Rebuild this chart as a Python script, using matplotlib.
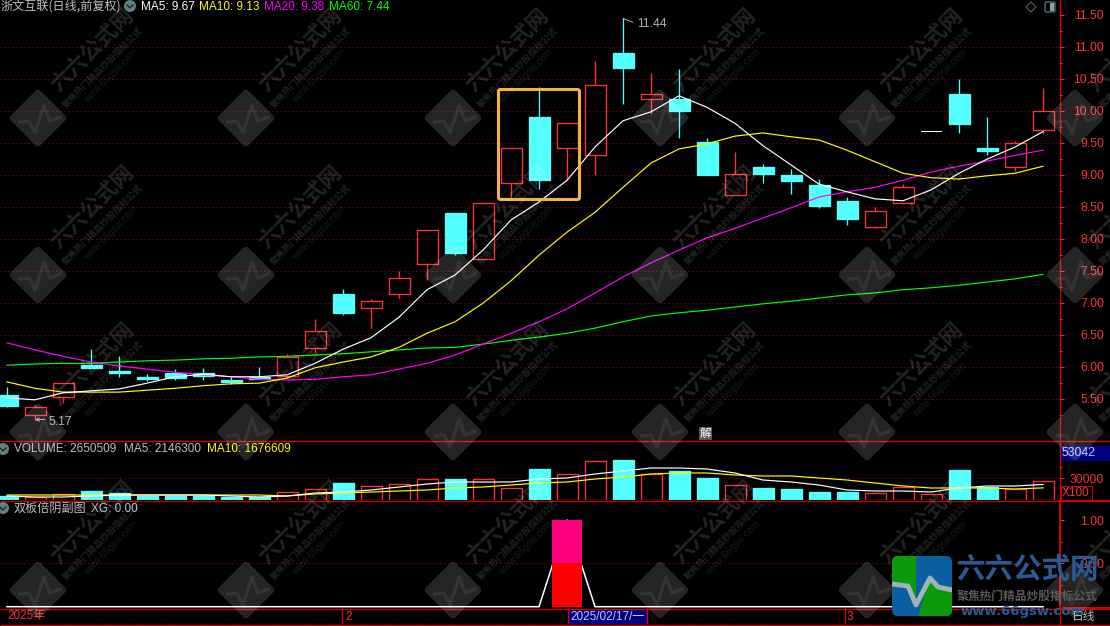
import matplotlib
matplotlib.use('Agg')
import numpy as np
import matplotlib.pyplot as plt
from matplotlib.patches import Rectangle, FancyBboxPatch, Polygon, Circle
from matplotlib.transforms import Affine2D

W, H = 1110, 626
CJK = ['Noto Sans CJK SC', 'DejaVu Sans']
LATIN = 'Liberation Sans'
RED = '#ff3232'
CYAN = '#54ffff'
DARK = '#a00000'
GREY = '#c0c0c0'
FRAME = '#d00000'
PX = 0.72  # one pixel line
STROKE = 0.95  # snapped strokes, a bit heavier so they stay bright

# daily candles
opens = [5.56, 5.24, 5.52, 6.02, 5.93, 5.84, 5.90, 5.90, 5.79, 5.84, 5.85, 6.29, 7.13, 6.91, 7.13, 7.60, 8.40, 7.68, 8.87,
         9.90, 9.41, 9.30, 10.90, 10.18, 10.18, 9.51, 8.68, 9.12, 9.00, 8.84, 8.59, 8.18, 8.55, 9.68, 10.26, 9.41, 9.12, 9.69]
closes = [5.38, 5.37, 5.74, 5.98, 5.90, 5.80, 5.82, 5.85, 5.76, 5.80, 6.15, 6.55, 6.84, 7.02, 7.38, 8.13, 7.77, 8.55, 9.41,
          8.91, 9.80, 10.40, 10.66, 10.26, 10.00, 9.00, 9.01, 9.01, 8.90, 8.51, 8.30, 8.43, 8.80, 9.68, 9.79, 9.37, 9.49, 10.00]
highs = [5.68, 5.40, 5.74, 6.27, 6.16, 5.88, 5.96, 5.98, 5.85, 6.00, 6.20, 6.74, 7.21, 7.06, 7.49, 8.13, 8.40, 8.55, 9.41,
         10.36, 9.80, 10.77, 11.44, 10.59, 10.65, 9.57, 9.35, 9.16, 9.08, 8.93, 8.65, 8.49, 8.85, 9.68, 10.49, 9.90, 9.52, 10.35]
lows = [5.37, 5.17, 5.43, 5.98, 5.84, 5.77, 5.79, 5.79, 5.73, 5.80, 5.82, 6.21, 6.80, 6.60, 7.07, 7.35, 7.74, 7.68, 8.62,
        8.77, 8.91, 9.00, 10.10, 9.95, 9.57, 9.00, 8.68, 8.87, 8.70, 8.48, 8.21, 8.16, 8.55, 9.68, 9.65, 9.30, 9.05, 9.63]

ma5 = [5.51, 5.48, 5.59, 5.62, 5.65, 5.74, 5.84, 5.88, 5.84, 5.84, 5.87, 6.05, 6.27, 6.45, 6.77, 7.20, 7.43, 7.82, 8.29,
       8.57, 8.91, 9.43, 9.84, 9.98, 10.23, 10.05, 9.80, 9.45, 9.15, 8.85, 8.73, 8.62, 8.59, 8.76, 9.02, 9.24, 9.43, 9.67]
ma10 = [5.76, 5.66, 5.60, 5.60, 5.60, 5.63, 5.66, 5.70, 5.73, 5.74, 5.82, 5.98, 6.07, 6.15, 6.30, 6.52, 6.70, 6.99, 7.34,
        7.74, 8.10, 8.41, 8.80, 9.18, 9.40, 9.48, 9.60, 9.65, 9.59, 9.54, 9.38, 9.20, 9.02, 8.95, 8.93, 8.98, 9.02, 9.13]
ma20 = [6.37, 6.26, 6.16, 6.07, 6.01, 5.96, 5.91, 5.87, 5.84, 5.80, 5.79, 5.80, 5.84, 5.87, 5.96, 6.05, 6.18, 6.35, 6.52,
        6.70, 6.90, 7.15, 7.40, 7.62, 7.82, 8.01, 8.16, 8.32, 8.48, 8.65, 8.73, 8.80, 8.91, 9.04, 9.13, 9.21, 9.30, 9.38]
ma60 = [6.02, 6.04, 6.05, 6.05, 6.07, 6.09, 6.10, 6.12, 6.13, 6.15, 6.16, 6.18, 6.20, 6.23, 6.26, 6.29, 6.30, 6.35, 6.41,
        6.46, 6.52, 6.60, 6.70, 6.79, 6.84, 6.88, 6.93, 6.98, 7.02, 7.07, 7.12, 7.15, 7.20, 7.23, 7.27, 7.32, 7.37, 7.44]

volume = [553000, 415000, 830000, 1244000, 968000, 553000, 553000, 553000, 415000, 415000, 1106000, 1521000, 2350000,
          1935000, 2212000, 2903000, 2903000, 2903000, 1659000, 4286000, 3595000, 5392000, 5530000, 3595000, 4009000,
          3042000, 2074000, 1659000, 1521000, 1106000, 1106000, 968000, 1797000, 830000, 4148000, 1797000, 1521000, 2650509]
vol_ma5 = [553000, 415000, 415000, 553000, 691000, 691000, 691000, 691000, 553000, 415000, 553000, 968000, 1106000,
           1383000, 1797000, 2212000, 2489000, 2489000, 2489000, 2903000, 3042000, 3595000, 4009000, 4424000, 4424000,
           4286000, 3733000, 2765000, 2489000, 2074000, 1383000, 1244000, 1244000, 1106000, 1659000, 1936000, 1936000, 2146300]
vol_ma10 = [691000, 691000, 691000, 691000, 691000, 691000, 691000, 691000, 691000, 691000, 553000, 830000, 968000,
            1106000, 1244000, 1383000, 1659000, 1797000, 2074000, 2350000, 2489000, 2903000, 3180000, 3595000, 3733000,
            3733000, 3456000, 3318000, 3318000, 3042000, 2765000, 2350000, 1936000, 1659000, 1659000, 1659000, 1521000, 1676609]

xg = [0] * 20 + [1] + [0] * 17
xg_day = 20
price_ticks = [5.5, 6.0, 6.5, 7.0, 7.5, 8.0, 8.5, 9.0, 9.5, 10.0, 10.5, 11.0, 11.5]
price_minor = [5.25, 5.75, 6.25, 6.75, 7.25, 7.75, 8.25, 8.75, 9.25, 9.75, 10.25, 10.75, 11.25]
month_ticks = [38, 70, 111, 140, 174, 203, 237, 278, 305, 334, 361, 386, 418, 452, 503, 532, 560, 595, 623, 658, 690, 720,
               762, 833, 867, 900, 960, 1020]

plt.rcParams['font.family'] = [LATIN, 'DejaVu Sans']
x = np.arange(len(opens))
fig = plt.figure(figsize=(W / 100, H / 100), dpi=100, facecolor='black')


def panel(top, bottom):
    ax = fig.add_axes([0, 1 - bottom / H, 1059 / W, (bottom - top) / H], facecolor='black')
    ax.set_xlim(-0.25, 37.571)
    ax.set_xticks([])
    for side in ['top', 'left', 'bottom', 'right']:
        ax.spines[side].set_visible(False)
    ax.yaxis.tick_right()
    ax.tick_params(axis='y', which='major', length=3.6, width=PX, color=RED, labelcolor=RED, labelsize=8.7, pad=28.8)
    ax.tick_params(axis='y', which='minor', length=2.2, width=PX, color=RED)
    return ax


def dotted(ax, values):
    ax.hlines(values, -0.25, 37.571, colors=DARK, linewidth=PX, linestyles=[(0, (1, 3))], snap=True, zorder=1)


def right_labels(ax):
    for label in ax.get_yticklabels():
        label.set_ha('right')


def body(ax, i, low, height, up):
    col = RED if up else CYAN
    ax.add_patch(Rectangle((i - 0.375, low), 0.75, height, facecolor='none' if up else col, edgecolor=col,
                           linewidth=STROKE, snap=True, zorder=3))


# candles
ax = panel(0, 440)
ax.set_ylim(4.852, 11.727)
ax.set_yticks(price_ticks, [f'{v:.2f}' for v in price_ticks])
ax.set_yticks(price_minor, minor=True)
right_labels(ax)
dotted(ax, price_ticks[:-1])
for i in x:
    top, bot = max(opens[i], closes[i]), min(opens[i], closes[i])
    if highs[i] == lows[i]:
        ax.plot([i - 0.36, i + 0.36], [opens[i], opens[i]], color='white', lw=PX, zorder=3)
        continue
    up = closes[i] >= opens[i]
    col = RED if up else CYAN
    ax.vlines(i, top, highs[i], color=col, lw=STROKE, snap=True, zorder=2)
    ax.vlines(i, lows[i], bot, color=col, lw=STROKE, snap=True, zorder=2)
    body(ax, i, bot, top - bot, up)
for vals, col in [(ma60, '#00ff00'), (ma20, '#ff00ff'), (ma10, '#ffff00'), (ma5, 'white')]:
    ax.plot(x, vals, color=col, lw=0.85, zorder=4)
ax.annotate(f'{max(highs):.2f}', xy=(22, max(highs)), xytext=(10, -4), textcoords='offset points', color='#b0b0b0',
            fontsize=8.7, va='center', arrowprops=dict(arrowstyle='-', color='#b0b0b0', lw=0.7, shrinkA=1, shrinkB=0, relpos=(0, 0.5)))
ax.annotate(f'{min(lows):.2f}', xy=(1, min(lows)), xytext=(10, -1.5), textcoords='offset points', color='#b0b0b0',
            fontsize=8.7, va='center', arrowprops=dict(arrowstyle='->', color='#b0b0b0', lw=0.7, shrinkA=1, shrinkB=0, mutation_scale=6,
                                                       relpos=(0, 0.7)))

# volume
vol_ax = panel(440, 500)
vol_ax.set_ylim(0, 8295000)
vol_ax.set_yticks([3000000], ['30000'])
vol_ax.set_yticks([4500000], minor=True)
right_labels(vol_ax)
dotted(vol_ax, [3000000])
for i in x:
    body(vol_ax, i, 0, volume[i], closes[i] >= opens[i])
vol_ax.plot(x, vol_ma10, color='#ffff00', lw=0.85, zorder=4)
vol_ax.plot(x, vol_ma5, color='white', lw=0.85, zorder=4)

# XG sub chart
xg_ax = panel(500, 608)
xg_ax.set_ylim(-0.015, 1.231)
xg_ax.set_yticks([0.5, 1.0], ['0.50', '1.00'])
xg_ax.set_yticks([0.25, 0.75], minor=True)
right_labels(xg_ax)
dotted(xg_ax, [0.5])
xg_ax.plot(x, xg, color='white', lw=1.1, zorder=2)
xg_ax.bar(xg_day, 0.5, width=1.04, color='#ff0000', zorder=3)
xg_ax.bar(xg_day, 0.5, width=1.04, bottom=0.5, color='#ff0080', zorder=3)

# overlay in pixels for frame, labels and watermark
ov = fig.add_axes([0, 0, 1, 1], facecolor='none')
ov.set_xlim(0, W)
ov.set_ylim(H, 0)
ov.axis('off')

ov.hlines([440.5, 500.5, 608.5, 624.5], 0, W, color=FRAME, lw=STROKE, snap=True)
ov.vlines(1059.5, 0, 626, color=FRAME, lw=STROKE, snap=True)
ov.add_patch(Rectangle((1059.5, 501), 51, 107, facecolor='none', edgecolor=FRAME, lw=1.44, snap=True))
ov.vlines(month_ticks, 624, 626, color=FRAME, lw=PX, snap=True)

ov.add_patch(FancyBboxPatch((498.5, 89.5), 81, 110, boxstyle='round,pad=0,rounding_size=2', facecolor='none',
                            edgecolor='#f4b13c', lw=2.2, zorder=6))


def label(px, py, s, color=GREY, size=8.5, family=None, **kw):
    ov.text(px, py, s, color=color, fontsize=size, family=family or [LATIN, 'DejaVu Sans'], va='center', **kw)


label(1, 6.5, '浙文互联(日线,前复权)', family=CJK, size=8.7)
label(141, 6.5, 'MA5: 9.67', color='white')
label(199, 6.5, 'MA10: 9.13', color='#ffff00')
label(264, 6.5, 'MA20: 9.38', color='#ff00ff')
label(329, 6.5, 'MA60: 7.44', color='#00ff00')
label(14, 449.5, 'VOLUME: 2650509')
label(124, 449.5, 'MA5: 2146300')
label(207, 449.5, 'MA10: 1676609', color='#ffff00')
label(14, 508.5, '双板倍阴副图', family=CJK, size=8.7)
label(91, 508.5, 'XG: 0.00')

# readouts on the right and date strip
ov.add_patch(Rectangle((1060, 446), 50, 15, facecolor='#000080', edgecolor='none'))
label(1061, 453, '53042', color='#c8c8ff', size=8.7)
ov.add_patch(Rectangle((1060.5, 486), 31, 14, facecolor='black', edgecolor=FRAME, lw=PX, snap=True))
label(1062, 493, 'X100', color=RED)
ov.add_patch(Rectangle((569, 609), 78, 15, facecolor='#000080', edgecolor='none'))
ov.vlines([342, 568, 647, 845], 608, 624, color=FRAME, lw=STROKE, snap=True)
label(570, 616.5, '2025/02/17/一', color='#c8c8ff', family=[LATIN, 'Noto Sans CJK SC'])
label(7, 616.5, '2025年', color=RED, family=[LATIN, 'Noto Sans CJK SC'])
label(345, 616.5, '2', color=RED)
label(847, 616.5, '3', color=RED)
label(1072, 616.5, '日线', family=CJK)
ov.add_patch(Rectangle((699, 427), 13, 13, facecolor='#4a5a5a', edgecolor='none'))
label(705.5, 433.5, '解', color='white', family=CJK, ha='center')

# small icons
for cx, cy in [(130, 6), (3, 449), (3, 508)]:
    ov.add_patch(Circle((cx, cy), 6, facecolor='#5f8080', edgecolor='none', clip_on=True))
    ov.plot([cx - 3, cx, cx + 3], [cy - 1, cy + 2, cy - 1], color='#102020', lw=0.9)
ov.add_patch(Polygon([(1031, 2), (1036, 7), (1031, 12), (1026, 7)], closed=True, facecolor='none', edgecolor='#5f7070', lw=0.7))
ov.add_patch(FancyBboxPatch((1045, 2), 10, 10, boxstyle='round,pad=0,rounding_size=1.5', facecolor='none', edgecolor='#5f8080', lw=0.9))
ov.add_patch(Rectangle((1050, 3), 4, 8, facecolor='#90a0a0', edgecolor='none'))

# watermark grid
for cy in [118, 275, 432, 590]:
    for cx in [38, 246, 453, 660, 867, 1075]:
        rot = Affine2D().rotate_deg_around(cx, cy, 45) + ov.transData
        ov.add_patch(FancyBboxPatch((cx - 21, cy - 21), 42, 42, boxstyle='round,pad=0,rounding_size=4', facecolor='white',
                                    edgecolor='none', alpha=0.15, transform=rot, zorder=7))
        ov.plot(cx + np.array([-18, -9, -3, 6, 12, 22]), cy + np.array([4, 3, 15, -13, 3, -1]), color='white', lw=2.4,
                alpha=0.07, zorder=7)
        ov.text(cx + 54, cy - 68, '六六公式网', color='white', alpha=0.14, fontsize=15.5, weight='bold', family=CJK, rotation=45,
                rotation_mode='anchor', ha='center', va='center', zorder=7, clip_on=True)
        ov.text(cx + 65, cy - 50, '聚焦热门精品炒股指标公式', color='white', alpha=0.14, fontsize=6.6, weight='bold', family=CJK,
                rotation=45, rotation_mode='anchor', ha='center', va='center', zorder=7, clip_on=True)
        ov.text(cx + 73, cy - 42, 'www.66gsw.com', color='white', alpha=0.11, fontsize=7, rotation=45, rotation_mode='anchor',
                ha='center', va='center', zorder=7, clip_on=True)

# corner logo
box = FancyBboxPatch((892, 556), 60, 60, boxstyle='round,pad=0,rounding_size=6', facecolor='#0a5fa0', edgecolor='none', zorder=8)
ov.add_patch(box)
for pts in [[(892, 556), (916, 556), (916, 605), (908, 586), (892, 584)], [(952, 590), (938, 587), (930, 578), (918, 616), (952, 616)]]:
    ov.add_patch(Polygon(pts, closed=True, facecolor='#0a9a0a', edgecolor='none', zorder=8, clip_path=box))
ov.plot([892, 908, 916, 930, 938, 952], [584, 586, 605, 578, 587, 590], color='#a0b4b8', lw=3.5, zorder=9, clip_path=box)
ov.text(1027, 570, '六六公式网', color='#2a5a96', fontsize=20.5, weight='bold', family=CJK, ha='center', va='center', zorder=9)
ov.text(1027, 596, '聚焦热门精品炒股指标公式', color='#5a5a5a', fontsize=8.5, weight='bold', family=CJK, ha='center', va='center', zorder=9)
ov.text(1023, 612, 'www.66gsw.com', color='#2a5a96', fontsize=9.5, weight='bold', family='DejaVu Sans', ha='center', va='center', zorder=9)

fig.savefig('out.png', dpi=100, facecolor='black')
